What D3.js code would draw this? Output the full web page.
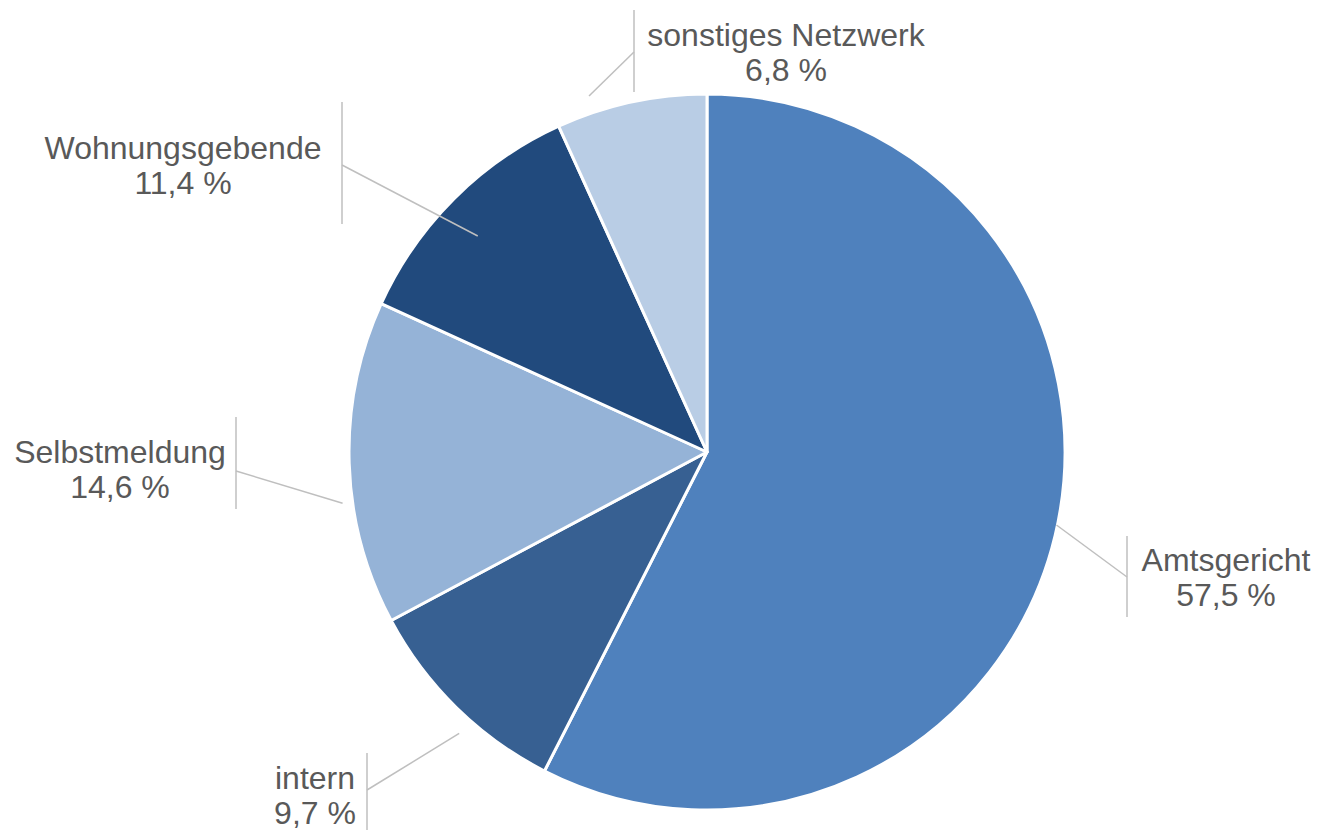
<!DOCTYPE html>
<html>
<head>
<meta charset="utf-8">
<script src="https://cdn.jsdelivr.net/npm/d3@7"></script>
<style>
  html, body { margin: 0; padding: 0; background: #fff; }
  #chart { width: 1318px; height: 830px; }
</style>
</head>
<body>
<div id="chart"></div>
<script>
// Slices, clockwise from 12 o'clock
const categories = ["Amtsgericht", "intern", "Selbstmeldung", "Wohnungsgebende", "sonstiges Netzwerk"];
const shares = [57.5, 9.7, 14.6, 11.4, 6.8];
const colors = ["#4f81bd", "#376092", "#95b3d7", "#214a7d", "#b9cde5"];

// Label placement: text centre + first baseline, vertical bar, elbow,
// and where the leader touches the slice (radius + angle shift from mid, degrees)
const labelLayout = [
  { tx: 1226, ty: 571, barX: 1127, barTop: 536, barBottom: 617, elbowY: 577, leaderR: 357, shift: -1.7 },
  { tx: 315, ty: 789, barX: 367, barTop: 753, barBottom: 830, elbowY: 790, leaderR: 375, shift: -3.1 },
  { tx: 120, ty: 463, barX: 236, barTop: 417, barBottom: 509, elbowY: 471, leaderR: 368, shift: -6.2 },
  { tx: 183, ty: 159, barX: 342, barTop: 102, barBottom: 224, elbowY: 165, leaderR: 315, shift: -1.7 },
  { tx: 786, ty: 46, barX: 634, barTop: 10, barBottom: 92, elbowY: 52, leaderR: 375, shift: -6.1 },
];

const width = 1318, height = 830;
const cx = 707, cy = 452, radius = 358;
const fontSize = 32, lineGap = 35;

const fmt = (v) => v.toFixed(1).replace(".", ",") + " %";

const svg = d3.select("#chart")
  .append("svg")
  .attr("width", width)
  .attr("height", height);

const data = categories.map((c, i) => ({ name: c, value: shares[i], color: colors[i], layout: labelLayout[i] }));

const pie = d3.pie().sort(null).value((d) => d.value);
const arcs = pie(data);
const arc = d3.arc().innerRadius(0).outerRadius(radius);

const g = svg.append("g").attr("transform", `translate(${cx},${cy})`);

g.selectAll("path")
  .data(arcs)
  .enter()
  .append("path")
  .attr("d", arc)
  .attr("fill", (d) => d.data.color)
  .attr("stroke", "#fff")
  .attr("stroke-width", 3)
  .attr("stroke-linejoin", "round");

// leader lines: from the slice edge to the elbow on the vertical bar
const leaders = svg.append("g")
  .attr("fill", "none")
  .attr("stroke", "#bfbfbf")
  .attr("stroke-width", 1.5);

arcs.forEach((d) => {
  const L = d.data.layout;
  const a = (d.startAngle + d.endAngle) / 2 + (L.shift * Math.PI) / 180;
  const px = cx + L.leaderR * Math.sin(a);
  const py = cy - L.leaderR * Math.cos(a);
  leaders.append("line")
    .attr("x1", L.barX).attr("y1", L.barTop)
    .attr("x2", L.barX).attr("y2", L.barBottom);
  leaders.append("line")
    .attr("x1", L.barX).attr("y1", L.elbowY)
    .attr("x2", px).attr("y2", py);
});

// labels
const labels = svg.selectAll("text.lbl")
  .data(arcs)
  .enter()
  .append("text")
  .attr("class", "lbl")
  .attr("text-anchor", "middle")
  .attr("fill", "#595959")
  .style("font-family", "'Liberation Sans', Arial, sans-serif")
  .style("font-size", fontSize + "px");

labels.append("tspan")
  .attr("x", (d) => d.data.layout.tx)
  .attr("y", (d) => d.data.layout.ty)
  .text((d) => d.data.name);

labels.append("tspan")
  .attr("x", (d) => d.data.layout.tx)
  .attr("y", (d) => d.data.layout.ty + lineGap)
  .text((d) => fmt(d.data.value));
</script>
</body>
</html>
